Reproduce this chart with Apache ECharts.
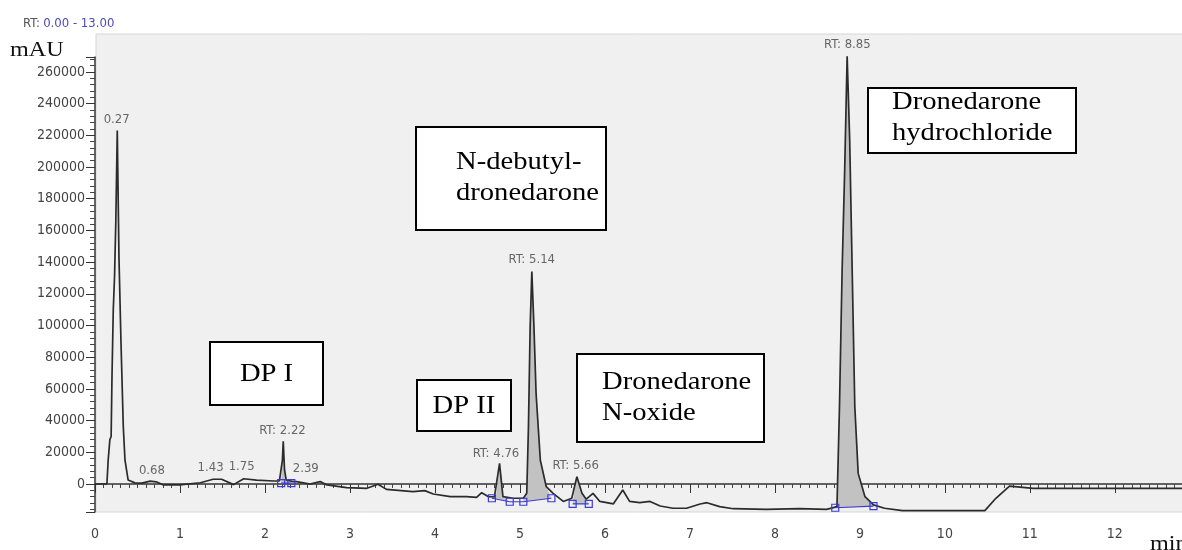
<!DOCTYPE html>
<html lang="en">
<head>
<meta charset="UTF-8">
<title>Chromatogram</title>
<script src="https://cdn.jsdelivr.net/npm/echarts@6/dist/echarts.min.js"></script>
<style>
  html, body { margin: 0; padding: 0; background: #fff; }
  #chart { width: 1182px; height: 550px; }
</style>
</head>
<body>
<div id="chart"></div>
<script>
// trace: retention time (min) / signal (mAU)
const traceTime = [
  0.00, 0.14, 0.155, 0.175, 0.19, 0.20, 0.215, 0.23, 0.245, 0.262, 0.282, 0.306, 0.333, 0.353, 0.39,
  0.47, 0.55, 0.65, 0.72, 0.80, 1.00, 1.24, 1.39, 1.49, 1.63, 1.75, 1.90, 2.10, 2.17, 2.19, 2.205,
  2.215, 2.23, 2.25, 2.33, 2.37, 2.53, 2.65, 2.73, 2.96, 3.20, 3.33, 3.43, 3.74, 3.88, 3.98, 4.18,
  4.37, 4.49, 4.55, 4.63, 4.70, 4.72, 4.76, 4.80, 4.92, 5.04, 5.08, 5.10, 5.12, 5.14, 5.165, 5.19,
  5.24, 5.31, 5.39, 5.51, 5.61, 5.67, 5.73, 5.78, 5.86, 5.94, 6.10, 6.21, 6.29, 6.41, 6.53, 6.65,
  6.80, 6.96, 7.12, 7.20, 7.35, 7.51, 7.90, 8.29, 8.61, 8.73, 8.76, 8.79, 8.82, 8.85, 8.88, 8.91,
  8.94, 8.98, 9.06, 9.16, 9.29, 9.50, 10.00, 10.47, 10.60, 10.76, 11.04, 12.00, 12.79
];
const traceSignal = [
  0, 0, 15000, 28000, 30000, 68000, 110000, 131000, 166000, 223000, 143000, 89000, 36000, 15000, 2500,
  700, 600, 1800, 1400, -500, -600, 800, 3000, 3000, -400, 3300, 2500, 1900, 1900, 2000, 15000,
  27000, 9000, 2500, 1500, 1500, 0, 1500, -600, -2300, -2700, -200, -3400, -4800, -4200, -6300, -8000,
  -8000, -8400, -5500, -8000, -8200, -7000, 13000, -8000, -9000, -9000, -5900, 36000, 99000, 134000, 99000, 57000,
  15000, -1700, -5900, -11000, -9000, 4600, -5900, -9600, -5900, -11000, -12500, -3800, -11000, -11800, -11000, -13900,
  -15300, -15300, -12600, -11800, -14300, -15600, -16000, -15500, -16000, -14300, 49000, 133000, 196000, 270000, 217000, 133000,
  49000, 6700, -8000, -13200, -15300, -16800, -16800, -16800, -9000, -1300, -2700, -2700, -2700
];

// peak annotations (text, time, signal of the label centre)
const peakLabelText = ['0.27', '0.68', '1.43', '1.75', 'RT: 2.22', '2.39', 'RT: 4.76', 'RT: 5.14', 'RT: 5.66', 'RT: 8.85'];
const peakLabelTime = [0.255, 0.67, 1.36, 1.726, 2.206, 2.48, 4.718, 5.139, 5.656, 8.853];
const peakLabelSignal = [229700, 8200, 10100, 10700, 33400, 9500, 18900, 141300, 11400, 277000];

// integration baselines (start / end of each shaded peak)
const baseStartTime = [2.19, 4.67, 5.04, 5.62, 8.71];
const baseStartSignal = [500, -9000, -11200, -12600, -15000];
const baseEndTime = [2.31, 4.88, 5.37, 5.81, 9.16];
const baseEndSignal = [500, -11200, -9000, -12600, -13900];
const baseGroup = [0, 1, 1, 2, 3];

const trace = traceTime.map((t, i) => [t, traceSignal[i]]);

const sans = '"DejaVu Sans Condensed", "Liberation Sans", Arial, sans-serif';
const serif = '"Liberation Serif", "Times New Roman", serif';
const blue = '#3c3cd2';

// blue baseline lines, one per group
const groups = {};
baseGroup.forEach((g, i) => {
  groups[g] = groups[g] || [];
  groups[g].push([baseStartTime[i], baseStartSignal[i]]);
  groups[g].push([baseEndTime[i], baseEndSignal[i]]);
});
const baseSeries = Object.keys(groups).map(g => ({
  type: 'line',
  data: groups[g],
  symbol: 'rect',
  symbolSize: 7,
  showSymbol: true,
  z: 5,
  lineStyle: { color: blue, width: 1.2 },
  itemStyle: { color: 'rgba(0,0,0,0)', borderColor: blue, borderWidth: 1.2 },
  emphasis: { disabled: true },
  silent: true
}));

function box(x, y, w, h) {
  return {
    type: 'rect',
    shape: { x: x, y: y, width: w, height: h },
    style: { fill: '#fff', stroke: '#000', lineWidth: 2 },
    z: 10
  };
}
function label(text, x, y, align) {
  return {
    type: 'text',
    x: x, y: y,
    scaleX: 1.1,
    z: 11,
    style: {
      text: text, fontFamily: serif, fontSize: 26, lineHeight: 31,
      fill: '#000', align: align || 'left', verticalAlign: 'middle'
    }
  };
}

const chart = echarts.init(document.getElementById('chart'));
chart.setOption({
  animation: false,
  backgroundColor: '#fff',
  grid: { left: 95, top: 57, right: 0, bottom: 38 },
  xAxis: {
    type: 'value',
    min: 0,
    max: 12.79,
    interval: 1,
    axisLine: { lineStyle: { color: '#333', width: 1.5 } },
    axisTick: { length: 9, lineStyle: { color: '#333' } },
    minorTick: { show: true, splitNumber: 10, length: 4, lineStyle: { color: '#444' } },
    axisLabel: { margin: 15, color: '#444', fontFamily: sans, fontSize: 14, showMaxLabel: false },
    splitLine: { show: false }
  },
  yAxis: {
    type: 'value',
    min: -17668,
    max: 269437,
    splitNumber: 14,
    axisLine: { show: true, lineStyle: { color: '#333', width: 1.5 } },
    axisTick: { show: true, length: 9, lineStyle: { color: '#333' } },
    minorTick: { show: true, splitNumber: 5, length: 5, lineStyle: { color: '#444' } },
    axisLabel: {
      margin: 10, color: '#444', fontFamily: sans, fontSize: 14,
      showMinLabel: false, showMaxLabel: false,
      formatter: v => String(v)
    },
    splitLine: { show: false }
  },
  graphic: [
    { type: 'rect', shape: { x: 96, y: 34, width: 1100, height: 478 }, style: { fill: '#f0f0f0', stroke: '#d6d6d6', lineWidth: 1 }, z: -10 },
    {
      type: 'text', x: 23, y: 24,
      style: {
        text: '{a|RT:} {b|0.00 - 13.00}', verticalAlign: 'middle',
        rich: {
          a: { fill: '#555', fontFamily: sans, fontSize: 13 },
          b: { fill: '#4b4bb8', fontFamily: sans, fontSize: 13 }
        }
      }
    },
    { type: 'text', x: 10, y: 50, scaleX: 1.15, style: { text: 'mAU', fontFamily: serif, fontSize: 21, fill: '#111', verticalAlign: 'middle' } },
    { type: 'text', x: 1150, y: 544, scaleX: 1.1, style: { text: 'min', fontFamily: serif, fontSize: 22, fill: '#111', verticalAlign: 'middle' } },
    box(210, 342, 113, 63), label('DP I', 266.5, 374, 'center'),
    box(417, 380, 94, 51), label('DP II', 464, 406, 'center'),
    box(416, 127, 190, 103), label('N-debutyl-\ndronedarone', 456, 178),
    box(577, 354, 187, 88), label('Dronedarone\nN-oxide', 602, 398),
    box(868, 88, 208, 65), label('Dronedarone\nhydrochloride', 892, 118)
  ],
  series: [
    {
      type: 'custom',
      z: 1,
      silent: true,
      data: baseStartTime.map((t, i) => [t, baseStartSignal[i], baseEndTime[i], baseEndSignal[i]]),
      encode: { x: [0, 2], y: [1, 3] },
      renderItem: function (params, api) {
        const i = params.dataIndex;
        const t0 = baseStartTime[i], t1 = baseEndTime[i];
        const pts = [api.coord([t0, baseStartSignal[i]])];
        trace.forEach(p => { if (p[0] >= t0 && p[0] <= t1) pts.push(api.coord(p)); });
        pts.push(api.coord([t1, baseEndSignal[i]]));
        return { type: 'polygon', shape: { points: pts }, style: { fill: '#c2c2c2' } };
      }
    },
    {
      type: 'line',
      data: trace,
      showSymbol: false,
      z: 3,
      lineStyle: { color: '#2b2b2b', width: 1.7 },
      emphasis: { disabled: true },
      silent: true
    },
    ...baseSeries,
    {
      type: 'scatter',
      clip: false,
      symbolSize: 0,
      z: 6,
      silent: true,
      data: peakLabelTime.map((t, i) => [t, peakLabelSignal[i], peakLabelText[i]]),
      label: {
        show: true,
        position: 'inside',
        formatter: p => p.value[2],
        color: '#444',
        fontFamily: sans,
        fontSize: 13
      }
    }
  ]
});
</script>
</body>
</html>
